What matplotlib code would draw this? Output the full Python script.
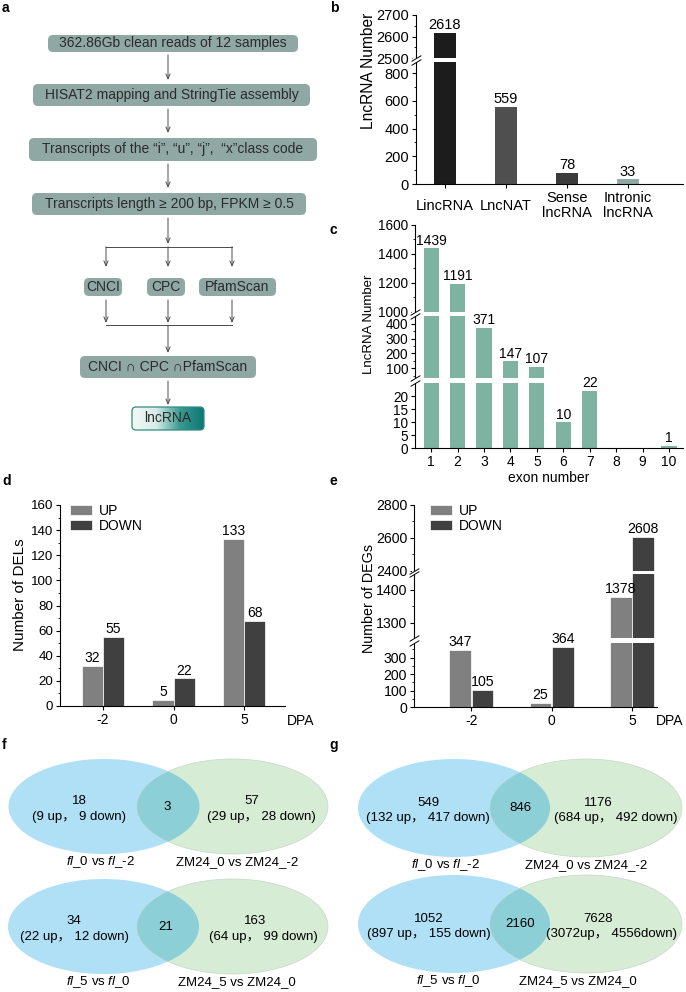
"""
lncRNA 鉴定流程与差异表达统计组合图 (a-g)
"""

import matplotlib

matplotlib.use("Agg")
import matplotlib.pyplot as plt
import matplotlib.patches as mpatches
from matplotlib.colors import LinearSegmentedColormap
import numpy as np

plt.rcParams["font.family"] = ["Liberation Sans", "Noto Sans CJK SC", "DejaVu Sans"]
plt.rcParams["mathtext.fontset"] = "custom"
plt.rcParams["mathtext.rm"] = "Liberation Sans"
plt.rcParams["mathtext.it"] = "Liberation Sans:italic"
plt.rcParams["axes.linewidth"] = 0.8

# ---------------- data ----------------
flow_steps = [
    "362.86Gb clean reads of 12 samples",
    "HISAT2 mapping and StringTie assembly",
    "Transcripts of the \u201ci\u201d, \u201cu\u201d, \u201cj\u201d,  \u201cx\u201dclass code",
    "Transcripts length \u2265 200 bp, FPKM \u2265 0.5",
]
flow_tools = ["CNCI", "CPC", "PfamScan"]
flow_merge = "CNCI \u2229 CPC \u2229PfamScan"
flow_final = "lncRNA"

type_labels = ["LincRNA", "LncNAT", "Sense\nlncRNA", "Intronic\nlncRNA"]
type_counts = [2618, 559, 78, 33]

exon_numbers = [1, 2, 3, 4, 5, 6, 7, 8, 9, 10]
exon_counts = [1439, 1191, 371, 147, 107, 10, 22, 0, 0, 1]

dpa_labels = ["-2", "0", "5"]
del_up = [32, 5, 133]
del_down = [55, 22, 68]
deg_up = [347, 25, 1378]
deg_down = [105, 364, 2608]

venn_left_names = [r"$\mathit{fl}$_0 vs $\mathit{fl}$_-2", r"$\mathit{fl}$_5 vs $\mathit{fl}$_0"]
venn_right_names = ["ZM24_0 vs ZM24_-2", "ZM24_5 vs ZM24_0"]
dels_left = [("18", "(9 up\uff0c 9 down)"), ("34", "(22 up\uff0c 12 down)")]
dels_common = ["3", "21"]
dels_right = [("57", "(29 up\uff0c 28 down)"), ("163", "(64 up\uff0c 99 down)")]
degs_left = [("549", "(132 up\uff0c 417 down)"), ("1052", "(897 up\uff0c 155 down)")]
degs_common = ["846", "2160"]
degs_right = [("1176", "(684 up\uff0c 492 down)"), ("7628", "(3072up\uff0c 4556down)")]

# ---------------- styles ----------------
BOX = "#8FA8A3"
TXT = "#2b2b2b"
UP_C = "#808080"
DOWN_C = "#404040"
EXON_C = "#7DB3A0"
TYPE_C = ["#1c1c1c", "#4f4f4f", "#3b3b3b", "#8FA8A3"]
BLUE = "#B0E0F5"
GREEN = "#D6ECD5"
OVER = "#8DCFD7"


def broken_scale(vals, pxs):
    # 分段线性映射，用于断轴
    vals = np.asarray(vals, float)
    pxs = np.asarray(pxs, float)
    s0 = (pxs[1] - pxs[0]) / (vals[1] - vals[0])
    s1 = (pxs[-1] - pxs[-2]) / (vals[-1] - vals[-2])
    v = np.concatenate([[vals[0] - 1e5], vals, [vals[-1] + 1e5]])
    p = np.concatenate([[pxs[0] - 1e5 * s0], pxs, [pxs[-1] + 1e5 * s1]])

    def fwd(x):
        return np.interp(x, v, p)

    def inv(y):
        return np.interp(y, p, v)

    return fwd, inv


def add_break(ax, lo, hi):
    ax.axhspan(lo, hi, xmin=-0.01, xmax=1, color="white", lw=0, zorder=3, clip_on=False)
    for yv in (lo, hi):
        ax.plot([0], [yv], transform=ax.get_yaxis_transform(), marker=[(-1, -0.6), (1, 0.6)],
                markersize=7, mew=0.7, color="black", clip_on=False, zorder=4)


def style_axes(ax, fs):
    ax.spines["top"].set_visible(False)
    ax.spines["right"].set_visible(False)
    ax.tick_params(axis="both", which="major", length=3, width=0.8, labelsize=fs, pad=2)
    ax.tick_params(axis="both", which="minor", length=1.6, width=0.6)


def label_bars(ax, xs, vals, fs, skip_zero=False):
    for x, v in zip(xs, vals):
        if skip_zero and v == 0:
            continue
        ax.annotate(str(v), (x, v), xytext=(0, 0.5), textcoords="offset points",
                    ha="center", va="bottom", fontsize=fs, zorder=5)


fig = plt.figure(figsize=(6.86, 9.92), dpi=100)

# 叠加坐标系（像素坐标）：流程图、Venn 图、面板字母
ov = fig.add_axes([0, 0, 1, 1])
ov.set_autoscale_on(False)
ov.set_xlim(0, 686)
ov.set_ylim(992, 0)
ov.axis("off")


def flow_box(x0, x1, y0, y1, text):
    p = mpatches.FancyBboxPatch((x0, y0), x1 - x0, y1 - y0, boxstyle="round,pad=0,rounding_size=5",
                                fc=BOX, ec="none")
    ov.add_patch(p)
    ov.text((x0 + x1) / 2, (y0 + y1) / 2, text, ha="center", va="center", fontsize=10, color=TXT)


def flow_arrow(x, y0, y1):
    ov.annotate("", xy=(x, y1), xytext=(x, y0),
                arrowprops=dict(arrowstyle="->,head_length=0.35,head_width=0.15", color="#4a4a4a",
                                lw=0.7, shrinkA=0, shrinkB=0, mutation_scale=10))


# ---- a: flowchart
step_rows = [(48, 298, 35, 52), (33, 310, 84, 106), (29, 317, 138, 161), (32, 306, 193, 215)]
for (x0, x1, y0, y1), s in zip(step_rows, flow_steps):
    flow_box(x0, x1, y0, y1, s)
flow_arrow(168, 55, 80)
flow_arrow(168, 109, 133)
flow_arrow(168, 164, 188)
flow_arrow(168, 218, 244)
ov.plot([106, 232], [246.7, 246.7], color="#4a4a4a", lw=0.7)
tool_boxes = [(84, 122), (147, 185), (199, 276)]
tool_x = [106, 168, 232]
for (x0, x1), tx, name in zip(tool_boxes, tool_x, flow_tools):
    flow_arrow(tx, 246.7, 267)
    flow_box(x0, x1, 278, 296, name)
    flow_arrow(tx, 300, 323)
ov.plot([106, 232], [325, 325], color="#4a4a4a", lw=0.7)
flow_arrow(168, 325, 353)
flow_box(80, 256, 356, 378, flow_merge)
flow_arrow(168, 381, 405)

fin = mpatches.FancyBboxPatch((132, 407), 72, 23, boxstyle="round,pad=0,rounding_size=4",
                              fc="none", ec="#2f8c82", lw=0.9, zorder=3)
ov.add_patch(fin)
grad_cmap = LinearSegmentedColormap.from_list("g", ["#f3f9f7", "#d9ece8", "#3a9a92", "#0d7671"])
im = ov.imshow(np.linspace(0, 1, 256).reshape(1, -1), extent=(132, 204, 430, 407), cmap=grad_cmap,
               aspect="auto", zorder=2)
im.set_clip_path(fin)
ov.text(168, 418.5, flow_final, ha="center", va="center", fontsize=10, color=TXT, zorder=4)

# ---- panel letters
for lt, (lx, ly) in zip("abcdefg", [(2, 8), (330, 8), (330, 230), (2, 481), (330, 481), (2, 745), (329, 745)]):
    ov.text(lx, ly, lt, ha="left", va="center", fontsize=10, fontweight="bold")

# ---- b: lncRNA types
axb = fig.add_axes([416 / 686, 1 - 184 / 992, 267 / 686, 169 / 992])
fwd, inv = broken_scale([0, 880, 2500, 2700], [0, 122, 126, 169])
axb.set_yscale("function", functions=(fwd, inv))
xb = np.arange(len(type_counts))
axb.bar(xb, type_counts, width=0.36, color=TYPE_C, zorder=2)
axb.set_xlim(-0.47, 3.9)
axb.set_ylim(0, 2700)
style_axes(axb, 10.5)
yt = [0, 200, 400, 600, 800, 2500, 2600, 2700]
axb.set_yticks(yt, [str(t) for t in yt])
axb.set_yticks([100, 300, 500, 700, 2550, 2650], minor=True)
axb.set_xticks(xb, type_labels)
for lab in axb.get_xticklabels():
    lab.set_va("center")
    lab.set_linespacing(1.05)
axb.tick_params(axis="x", pad=12.5)
add_break(axb, 880, 2500)
label_bars(axb, xb, type_counts, 10.5)
axb.set_ylabel("LncRNA Number", fontsize=11.2)
axb.yaxis.set_label_coords(-0.15, 0.67)

# ---- c: exon number
axc = fig.add_axes([415 / 686, 1 - 448.3 / 992, 268 / 686, 223.3 / 992])
fwd, inv = broken_scale([0, 25, 32, 450, 998, 1600], [0, 65, 70, 132, 136.5, 223.3])
axc.set_yscale("function", functions=(fwd, inv))
axc.bar(exon_numbers, exon_counts, width=0.57, color=EXON_C, zorder=2)
axc.set_xlim(0.39, 10.53)
axc.set_ylim(0, 1600)
style_axes(axc, 9.8)
yt = [0, 5, 10, 15, 20, 100, 200, 300, 400, 1000, 1200, 1400, 1600]
axc.set_yticks(yt, [str(t) for t in yt])
axc.set_yticks([50, 150, 250, 350, 1100, 1300, 1500], minor=True)
axc.set_xticks(exon_numbers, [str(n) for n in exon_numbers])
axc.tick_params(axis="x", labelsize=10, pad=2)
add_break(axc, 25, 32)
add_break(axc, 450, 998)
label_bars(axc, exon_numbers, exon_counts, 10, skip_zero=True)
axc.set_xlabel("exon number", fontsize=10, labelpad=1)
axc.set_ylabel("LncRNA Number", fontsize=9.5)
axc.yaxis.set_label_coords(-0.149, 0.557)

# ---- d: DELs
axd = fig.add_axes([60 / 686, 1 - 706 / 992, 225 / 686, 201 / 992])
xd = np.arange(len(dpa_labels))
axd.bar(xd - 0.15, del_up, 0.3, color=UP_C, ec="white", lw=0.5, label="UP", zorder=2)
axd.bar(xd + 0.15, del_down, 0.3, color=DOWN_C, ec="white", lw=0.5, label="DOWN", zorder=2)
axd.set_xlim(-0.61, 2.58)
axd.set_ylim(0, 160)
style_axes(axd, 9.6)
axd.set_yticks(np.arange(0, 161, 20))
axd.set_yticks(np.arange(10, 160, 20), minor=True)
axd.set_xticks(xd, dpa_labels)
axd.tick_params(axis="x", labelsize=10)
label_bars(axd, xd - 0.15, del_up, 10)
label_bars(axd, xd + 0.15, del_down, 10)
axd.legend(loc="upper left", bbox_to_anchor=(0.044, 1.005), frameon=False, fontsize=10,
           handlelength=1.6, handleheight=0.8, handletextpad=0.5, labelspacing=0.05,
           borderpad=0, borderaxespad=0)
axd.set_ylabel("Number of DELs", fontsize=11)
axd.yaxis.set_label_coords(-0.147, 0.555)
ov.text(287, 721, "DPA", ha="left", va="center", fontsize=10)

# ---- e: DEGs
axe = fig.add_axes([414 / 686, 1 - 707.3 / 992, 243 / 686, 202.3 / 992])
fwd, inv = broken_scale([0, 387, 1252, 1449, 2400, 2800], [0, 64, 69, 133.3, 136.5, 202.3])
axe.set_yscale("function", functions=(fwd, inv))
xe = np.arange(len(dpa_labels))
axe.bar(xe - 0.14, deg_up, 0.27, color=UP_C, ec="white", lw=0.5, label="UP", zorder=2)
axe.bar(xe + 0.14, deg_down, 0.27, color=DOWN_C, ec="white", lw=0.5, label="DOWN", zorder=2)
axe.set_xlim(-0.713, 2.31)
axe.set_ylim(0, 2800)
style_axes(axe, 10.2)
yt = [0, 100, 200, 300, 1300, 1400, 2400, 2600, 2800]
axe.set_yticks(yt, [str(t) for t in yt])
axe.set_yticks([50, 150, 250, 350, 1350, 2500, 2700], minor=True)
axe.set_xticks(xe, dpa_labels)
axe.tick_params(axis="x", labelsize=10)
add_break(axe, 387, 1252)
add_break(axe, 1449, 2400)
label_bars(axe, xe - 0.14, deg_up, 10.2)
label_bars(axe, xe + 0.14, deg_down, 10.2)
axe.legend(loc="upper left", bbox_to_anchor=(0.066, 1.005), frameon=False, fontsize=10,
           handlelength=1.6, handleheight=0.8, handletextpad=0.5, labelspacing=0.05,
           borderpad=0, borderaxespad=0)
axe.set_ylabel("Number of DEGs", fontsize=10.3)
axe.yaxis.set_label_coords(-0.156, 0.54)
ov.text(656, 721, "DPA", ha="left", va="center", fontsize=10)


# ---- f / g: Venn diagrams
def venn(lcx, rcx, cy, w, h, left, common, right, lname, rname, pos):
    (ltx, rtx, ctx, lnx, rnx) = pos
    le = mpatches.Ellipse((lcx, cy), w, h, fc=BLUE, ec="none", zorder=1)
    re = mpatches.Ellipse((rcx, cy), w, h, fc=GREEN, ec="#c9d6c9", lw=0.5, zorder=1)
    ov.add_patch(le)
    ov.add_patch(re)
    oe = mpatches.Ellipse((lcx, cy), w, h, fc=OVER, ec="none", zorder=2)
    ov.add_patch(oe)
    oe.set_clip_path(re)
    ov.text(ltx, cy - 5, left[0], ha="center", va="center", fontsize=9.5, zorder=3)
    ov.text(ltx, cy + 10.5, left[1], ha="center", va="center", fontsize=9.5, zorder=3)
    ov.text(ctx, cy, common, ha="center", va="center", fontsize=9.5, zorder=3)
    ov.text(rtx[0], cy - 5, right[0], ha="center", va="center", fontsize=9.5, zorder=3)
    ov.text(rtx[1], cy + 10.5, right[1], ha="center", va="center", fontsize=9.5, zorder=3)
    ov.text(lnx, cy + h / 2 + 8.5, lname, ha="center", va="center", fontsize=9.5)
    ov.text(rnx, cy + h / 2 + 8.5, rname, ha="center", va="center", fontsize=9.5)


venn(104, 232.5, 806.5, 191, 95, dels_left[0], dels_common[0], dels_right[0],
     venn_left_names[0], venn_right_names[0], (79, (252, 261), 167, 101, 237))
venn(103.5, 232.5, 926.5, 191, 95, dels_left[1], dels_common[1], dels_right[1],
     venn_left_names[1], venn_right_names[1], (74, (255, 263), 166, 98, 237))
venn(454, 586, 808, 192, 98, degs_left[0], degs_common[0], degs_right[0],
     venn_left_names[0], venn_right_names[0], (428, (598, 616), 520, 446, 586))
venn(454, 586, 924, 192, 98, degs_left[1], degs_common[1], degs_right[1],
     venn_left_names[1], venn_right_names[1], (429, (598, 612), 520, 448, 578))

fig.savefig("out.png", dpi=100)
plt.close(fig)
print("[OK] out.png")
